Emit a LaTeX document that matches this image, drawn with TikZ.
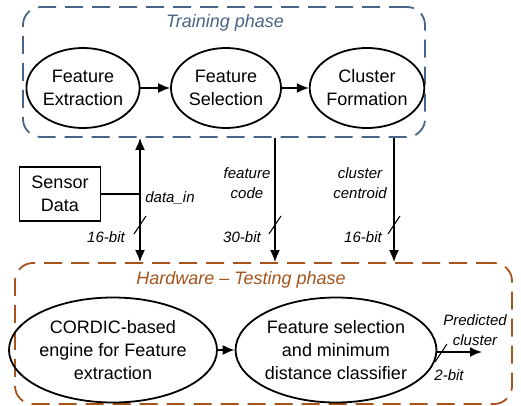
\documentclass[tikz,border=0pt]{standalone}
\usepackage{fontspec}
\setmainfont{Liberation Sans}
\usepackage{xcolor}
\usepackage{tikz}
\usetikzlibrary{shapes.geometric}
\usetikzlibrary{arrows.meta}
\definecolor{trainblue}{HTML}{476587}
\definecolor{testbrown}{HTML}{A5541C}
\tikzset{
    blk/.style = {draw, ellipse, line width = 1.8pt, inner sep = 0pt, align = center,
        font = \fontsize{18}{23}\selectfont},
    phasebox/.style = {draw, rectangle, rounded corners = 18pt, line width = 1.8pt,
        dash pattern = on 18pt off 9pt},
    lbl/.style = {align = center, font = \fontsize{15}{19.5}\selectfont\itshape},
    arr/.style = {line width = 1.8pt, -{Latex[length = 12pt, width = 10pt]}},
    busmark/.style = {line width = 1pt}
}
\begin{document}
\begin{tikzpicture}[x = 1pt, y = -1pt]
        \useasboundingbox (0, 0) rectangle (521, 406);

        \node[phasebox, color = trainblue, minimum width = 402pt, minimum height = 130pt] (train) at (224, 72) {};
        \node[phasebox, color = testbrown, minimum width = 497pt, minimum height = 141pt] (test) at (263.5, 333.5) {};
        \node[color = trainblue, font = \fontsize{18}{23}\selectfont\itshape] (traintitle) at (225, 23) {Training phase};
        \node[color = testbrown, font = \fontsize{18}{23}\selectfont\itshape] (testtitle) at (241, 280) {Hardware -- Testing phase};

        \node[blk, minimum width = 110pt, minimum height = 80pt] (fext) at (83, 88) {Feature\\Extraction};
        \node[blk, minimum width = 110pt, minimum height = 80pt] (fsel) at (226, 88) {Feature\\Selection};
        \node[blk, minimum width = 110pt, minimum height = 80pt] (cform) at (367, 88) {Cluster\\Formation};
        \draw[arr] (fext) -- (fsel);
        \draw[arr] (fsel) -- (cform);

        \node[draw, rectangle, line width = 1.8pt, minimum width = 81pt, minimum height = 54pt,
            align = center, font = \fontsize{18}{23}\selectfont] (sensor) at (60, 194) {Sensor\\Data};

        \node[blk, minimum width = 192pt, minimum height = 105pt] (cordic) at (113, 350) {CORDIC-based\\engine for Feature\\extraction};
        \node[blk, minimum width = 192pt, minimum height = 105pt] (mdc) at (336, 350) {Feature selection\\and minimum\\distance classifier};
        \draw[arr] (cordic) -- (mdc);

        \coordinate (din) at (140, 194);
        \coordinate (fcode) at (275, 194);
        \coordinate (ccent) at (394, 194);
        \coordinate (pout) at (482, 352);

        \draw[line width = 1.8pt] (sensor.east) -- (din);
        \draw[arr, {Latex[length = 12pt, width = 10pt]}-{Latex[length = 12pt, width = 10pt]}] (train.south -| din) -- (test.north -| din);
        \draw[arr] (train.south -| fcode) -- (test.north -| fcode);
        \draw[arr] (train.south -| ccent) -- (test.north -| ccent);
        \draw[arr] (mdc.east |- pout) -- (pout);

        \coordinate (s1) at (140, 225);
        \coordinate (s2) at (275, 225);
        \coordinate (s3) at (394, 225);
        \coordinate (s4) at (441, 353);
        \draw[busmark] (s1) +(6, -9) -- +(-6, 9);
        \draw[busmark] (s2) +(6, -9) -- +(-6, 9);
        \draw[busmark] (s3) +(6, -9) -- +(-6, 9);
        \draw[busmark] (s4) +(6, -9) -- +(-6, 9);

        \node[lbl] (dinlbl) at (170, 198) {data\_in};
        \node[lbl] (b1) at (106, 237) {16-bit};
        \node[lbl] (fclbl) at (247, 183) {feature\\code};
        \node[lbl] (b2) at (242, 237) {30-bit};
        \node[lbl] (cclbl) at (360, 183) {cluster\\centroid};
        \node[lbl] (b3) at (363, 237) {16-bit};
        \node[lbl] (outlbl) at (475, 330) {Predicted\\cluster};
        \node[lbl] (b4) at (449, 375) {2-bit};
        \end{tikzpicture}
\end{document}
